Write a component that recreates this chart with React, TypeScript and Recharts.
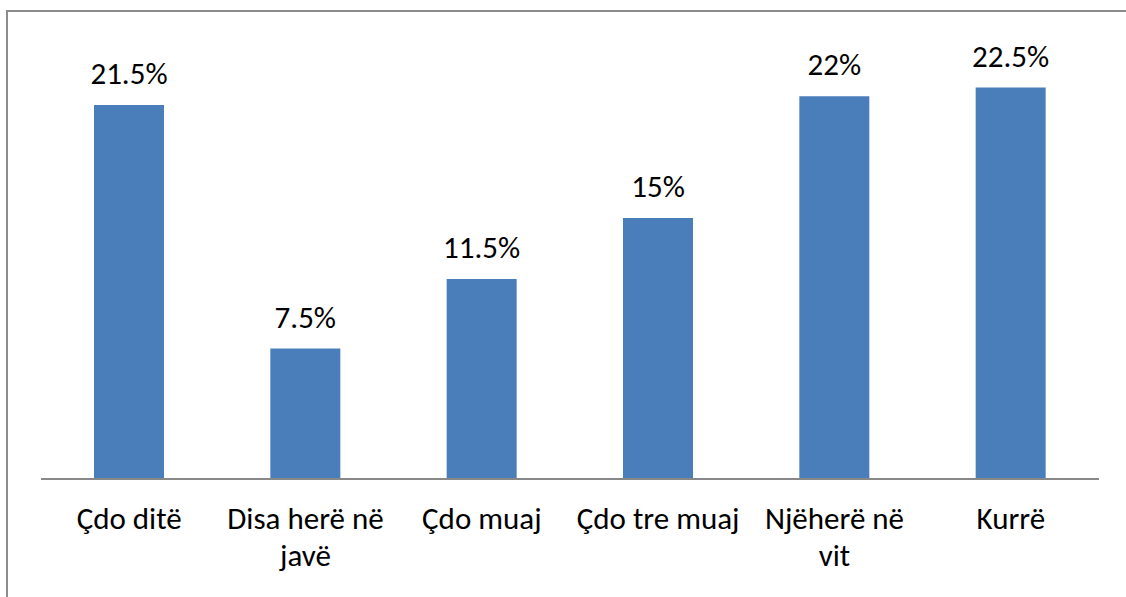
import { BarChart, Bar, XAxis, YAxis, LabelList } from 'recharts';

const categories = ['Çdo ditë', 'Disa herë në javë', 'Çdo muaj', 'Çdo tre muaj', 'Njëherë në vit', 'Kurrë'];
const shares = [21.5, 7.5, 11.5, 15, 22, 22.5];

const FONT = 'Carlito, Calibri, Lato, sans-serif';
const FONT_SIZE = 31;
const MAX_LINE = 172;

const data = categories.map((name, i) => ({ name, value: shares[i] }));

let ctx: CanvasRenderingContext2D | null = null;
function measure(s: string) {
  if (!ctx) {
    ctx = document.createElement('canvas').getContext('2d');
    if (ctx) ctx.font = `${FONT_SIZE}px ${FONT}`;
  }
  return ctx ? ctx.measureText(s).width : s.length * FONT_SIZE * 0.5;
}

function wrap(label: string) {
  const lines: string[] = [];
  let cur = '';
  for (const w of label.split(' ')) {
    const next = cur ? `${cur} ${w}` : w;
    if (cur && measure(next) > MAX_LINE) {
      lines.push(cur);
      cur = w;
    } else {
      cur = next;
    }
  }
  if (cur) lines.push(cur);
  return lines;
}

function CategoryTick(props: any) {
  const { x, y, payload } = props;
  const lines = wrap(String(payload.value));
  return (
    <text
      x={x}
      y={y + 42}
      textAnchor="middle"
      fontSize={FONT_SIZE}
      fontFamily={FONT}
      fill="#000"
    >
      {lines.map((l, i) => (
        <tspan key={i} x={x} dy={i === 0 ? 0 : 37}>
          {l}
        </tspan>
      ))}
    </text>
  );
}

export default function App() {
  return (
    <div
      style={{
        position: 'fixed',
        left: 0,
        top: 0,
        width: 1126,
        height: 597,
        background: '#fff',
        overflow: 'hidden',
      }}
    >
      <div
        style={{
          position: 'absolute',
          left: 6,
          top: 10,
          width: 1200,
          height: 700,
          border: '2px solid #8c8c8c',
        }}
      />
      <div style={{ position: 'absolute', left: 0, top: 0 }}>
        <BarChart
          width={1126}
          height={597}
          data={data}
          margin={{ top: 44, right: 27, bottom: 18, left: 41 }}
        >
          <YAxis hide domain={[0, 25]} />
          <XAxis
            dataKey="name"
            height={100}
            axisLine={{ stroke: '#888', strokeWidth: 2 }}
            tickLine={false}
            interval={0}
            tick={<CategoryTick />}
          />
          <Bar dataKey="value" fill="#4a7ebb" barSize={70} isAnimationActive={false}>
            <LabelList
              dataKey="value"
              position="top"
              offset={21}
              formatter={(v: any) => `${v}%`}
              style={{ fontSize: FONT_SIZE, fontFamily: FONT, fill: '#000' }}
            />
          </Bar>
        </BarChart>
      </div>
    </div>
  );
}
